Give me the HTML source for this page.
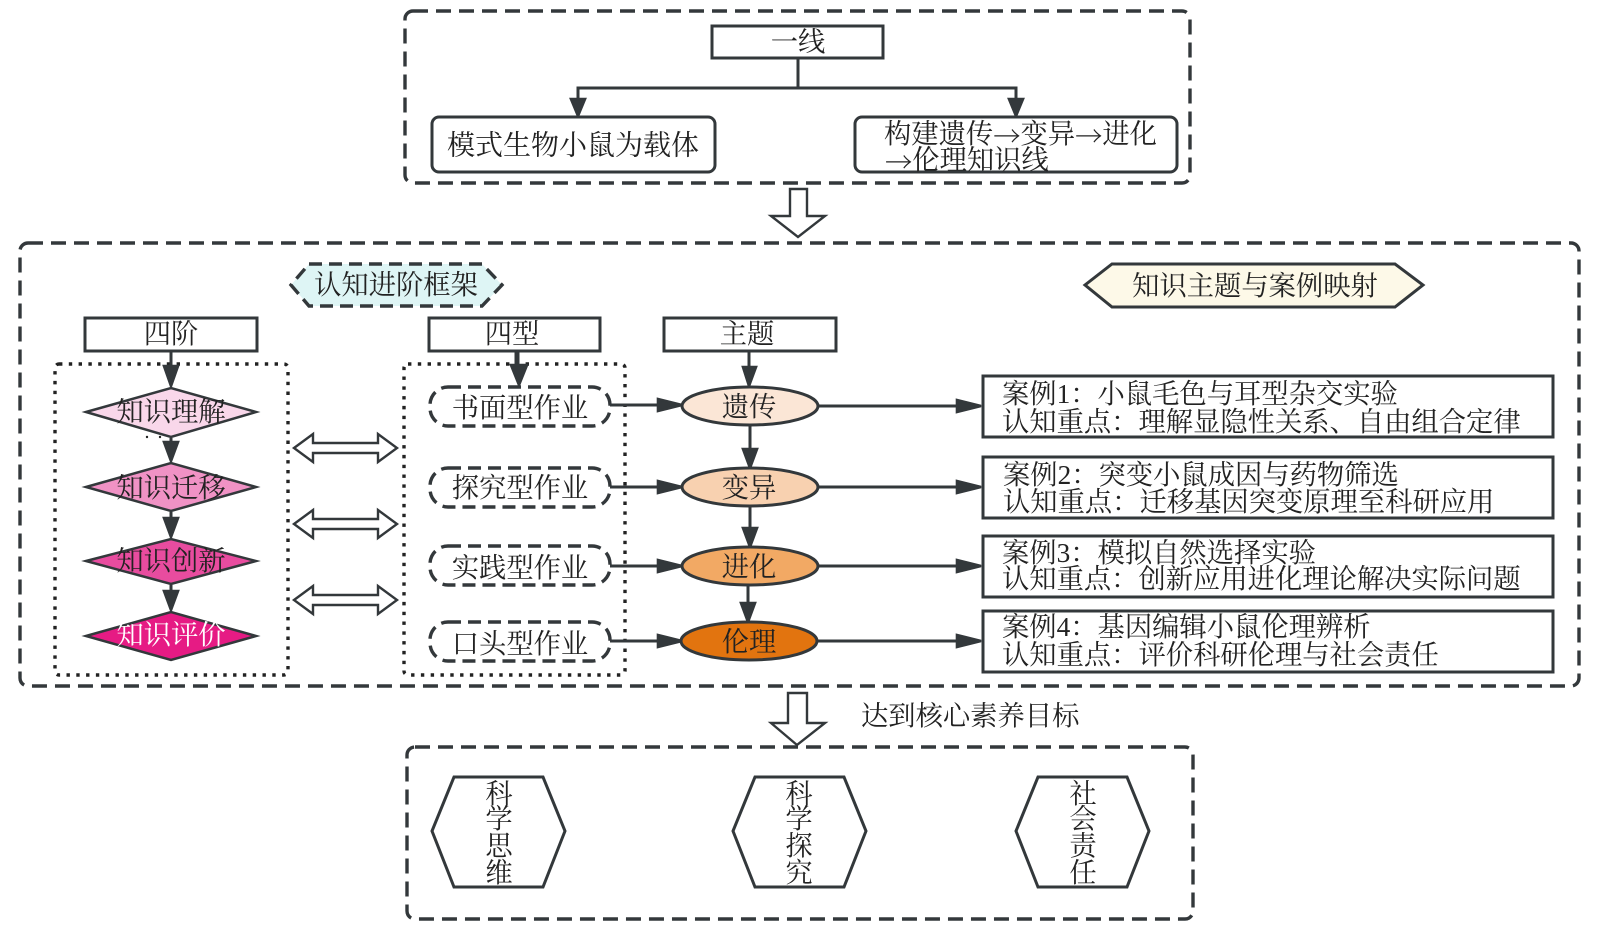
<!DOCTYPE html>
<html lang="zh"><head><meta charset="utf-8"><title>diagram</title>
<style>
html,body{margin:0;padding:0;background:#fff;width:1599px;height:929px;overflow:hidden}
svg{display:block}
text{font-family:"Liberation Serif","Noto Serif CJK SC","WenQuanYi Zen Hei",serif;font-size:27.3px;fill:#222;dominant-baseline:central;transform:translateY(1.8px)}
.a{font-family:"Noto Serif CJK SC",serif}
.m{text-anchor:middle}
.d{fill:none;stroke:#33383b;stroke-width:3.4;stroke-dasharray:15 8}
.b{fill:#fff;stroke:#33383b;stroke-width:3}
.s{stroke:#33383b;stroke-width:2.6;fill:#33383b}
.l{stroke:#33383b;stroke-width:3;fill:none}
.h{fill:#fff;stroke:#33383b;stroke-width:2.4}
.o{fill:none;stroke:#222;stroke-width:3.4;stroke-dasharray:3.4 6.4}
.p{fill:#fff;stroke:#33383b;stroke-width:3.4;stroke-dasharray:13 7}
</style></head><body>
<svg width="1599" height="929" viewBox="0 0 1599 929" xmlns="http://www.w3.org/2000/svg">
<!-- outer dashed boxes -->
<rect class="d" x="405" y="11" width="785" height="172" rx="8"/>
<rect class="d" x="20" y="243" width="1559" height="443" rx="8"/>
<rect class="d" x="407" y="747" width="786" height="172" rx="8"/>
<!-- top section -->
<rect class="b" x="712" y="26" width="171" height="32"/>
<text class="m" x="798" y="40">一线</text>
<path class="l" d="M798 58V88M578 100V88H1016V100"/>
<polygon class="s" points="571,99 585,99 578,116"/>
<polygon class="s" points="1009,99 1023,99 1016,116"/>
<rect class="b" x="432" y="117" width="283" height="55" rx="7"/>
<text x="447" y="144" style="font-size:28px">模式生物小鼠为载体</text>
<rect class="b" x="855" y="117" width="322" height="55" rx="7"/>
<text x="884" y="132">构建遗传<tspan class="a">→</tspan>变异<tspan class="a">→</tspan>进化</text>
<text x="885" y="158"><tspan class="a">→</tspan>伦理知识线</text>
<!-- hollow arrows -->
<polygon class="h" points="790,189 807,189 807,216 825,216 798,237 771,216 790,216"/>
<polygon class="h" points="788,693 807,693 807,723 825,723 797,745 771,723 788,723"/>
<text x="861" y="714">达到核心素养目标</text>
<!-- titles -->
<polygon points="309,264 482,264 502,285 482,306 309,306 291,285" fill="#def5f5" stroke="#33383b" stroke-width="3.4" stroke-dasharray="13 7"/>
<text class="m" x="396" y="283">认知进阶框架</text>
<polygon points="1112,264 1395,264 1423,285 1395,307 1112,307 1085,285" fill="#fdf9e8" stroke="#33383b" stroke-width="3"/>
<text class="m" x="1255" y="284">知识主题与案例映射</text>
<!-- dotted groups -->
<rect class="o" x="55" y="364" width="233" height="311" rx="4"/>
<rect class="o" x="404" y="364" width="221" height="311" rx="4"/>
<!-- headers -->
<rect class="b" x="85" y="318" width="172" height="33"/>
<text class="m" x="171" y="332">四阶</text>
<rect class="b" x="429" y="318" width="171" height="33"/>
<text class="m" x="512" y="332">四型</text>
<rect class="b" x="664" y="318" width="172" height="33"/>
<text class="m" x="747" y="332">主题</text>
<!-- diamonds -->
<polygon points="86,412 171,388 256,412 171,437" fill="#f9d7ea" stroke="#33383b" stroke-width="2.5"/>
<polygon points="86,487 171,463 256,487 171,511" fill="#f092c5" stroke="#33383b" stroke-width="2.5"/>
<polygon points="86,561 171,539 256,561 171,584" fill="#e84c9f" stroke="#33383b" stroke-width="2.5"/>
<polygon points="86,636 171,612 256,636 171,660" fill="#e61b84" stroke="#33383b" stroke-width="2.5"/>
<text class="m" x="171" y="410">知识理解</text>
<text class="m" x="171" y="486">知识迁移</text>
<text class="m" x="171" y="559">知识创新</text>
<text class="m" x="171" y="633" style="fill:#fff">知识评价</text>
<circle cx="147" cy="437" r="1.2" fill="#222"/><circle cx="160" cy="437" r="1.2" fill="#222"/>
<!-- diamond arrows -->
<path class="l" d="M171 351V370M171 438V445M171 512V520M171 585V592"/>
<polygon class="s" points="164,366 178,366 171,386"/>
<polygon class="s" points="164,442 178,442 171,461"/>
<polygon class="s" points="164,518 178,518 171,537"/>
<polygon class="s" points="164,591 178,591 171,610"/>
<!-- type arrow -->
<path d="M517 351V370" stroke="#33383b" stroke-width="5" fill="none"/>
<polygon class="s" points="511,365 527,365 519,385"/>
<!-- double arrows -->
<polygon class="h" points="294,448 313,434 313,443 378,443 378,434 397,448 378,462 378,453 313,453 313,462"/>
<polygon class="h" points="294,524 313,510 313,519 378,519 378,510 397,524 378,538 378,529 313,529 313,538"/>
<polygon class="h" points="294,600 313,586 313,595 378,595 378,586 397,600 378,614 378,605 313,605 313,614"/>
<!-- pills -->
<rect class="p" x="430" y="387" width="180" height="39" rx="18"/>
<rect class="p" x="430" y="468" width="180" height="39" rx="18"/>
<rect class="p" x="430" y="546" width="180" height="39" rx="18"/>
<rect class="p" x="430" y="622" width="180" height="39" rx="18"/>
<text class="m" x="520" y="406">书面型作业</text>
<text class="m" x="520" y="486">探究型作业</text>
<text class="m" x="520" y="566">实践型作业</text>
<text class="m" x="520" y="642">口头型作业</text>
<!-- pill to ellipse arrows -->
<path class="l" d="M610 405H660M610 487H660M610 566H660M610 641H660"/>
<polygon class="s" points="658,399 658,411 682,405"/>
<polygon class="s" points="658,481 658,493 682,487"/>
<polygon class="s" points="658,560 658,572 682,566"/>
<polygon class="s" points="658,635 658,647 682,641"/>
<!-- vertical theme arrows -->
<path class="l" d="M749 351V370M750 425V450M750 506V530M748 585V605"/>
<polygon class="s" points="743,367 756,367 749,386"/>
<polygon class="s" points="743,449 757,449 750,468"/>
<polygon class="s" points="743,528 757,528 750,547"/>
<polygon class="s" points="741,603 755,603 748,622"/>
<!-- ellipses -->
<ellipse cx="750" cy="406" rx="68" ry="19" fill="#fbe6d6" stroke="#33383b" stroke-width="3"/>
<ellipse cx="750" cy="487" rx="68" ry="19" fill="#f8d1b0" stroke="#33383b" stroke-width="3"/>
<ellipse cx="750" cy="566" rx="68" ry="19" fill="#f2a964" stroke="#33383b" stroke-width="3"/>
<ellipse cx="749" cy="641" rx="68" ry="19" fill="#e2740f" stroke="#33383b" stroke-width="3"/>
<text class="m" x="749" y="405">遗传</text>
<text class="m" x="749" y="486">变异</text>
<text class="m" x="749" y="565">进化</text>
<text class="m" x="749" y="640">伦理</text>
<!-- ellipse to case arrows -->
<path class="l" d="M818 406H960M818 487H960M818 566H960M818 641H960"/>
<polygon class="s" points="957,400 957,412 981,406"/>
<polygon class="s" points="957,481 957,493 981,487"/>
<polygon class="s" points="957,560 957,572 981,566"/>
<polygon class="s" points="957,635 957,647 981,641"/>
<!-- case boxes -->
<rect class="b" x="983" y="376" width="570" height="61"/>
<rect class="b" x="983" y="457" width="570" height="61"/>
<rect class="b" x="983" y="536" width="570" height="61"/>
<rect class="b" x="983" y="611" width="570" height="61"/>
<text x="1002" y="392">案例1：小鼠毛色与耳型杂交实验</text>
<text x="1002" y="420">认知重点：理解显隐性关系、自由组合定律</text>
<text x="1003" y="473">案例2：突变小鼠成因与药物筛选</text>
<text x="1003" y="500">认知重点：迁移基因突变原理至科研应用</text>
<text x="1002" y="551">案例3：模拟自然选择实验</text>
<text x="1002" y="577">认知重点：创新应用进化理论解决实际问题</text>
<text x="1002" y="625">案例4：基因编辑小鼠伦理辨析</text>
<text x="1002" y="653">认知重点：评价科研伦理与社会责任</text>
<!-- hexagons -->
<polygon class="b" points="454,777 543,777 565,831 543,887 454,887 432,831"/>
<polygon class="b" points="755,777 844,777 866,831 844,887 755,887 733,831"/>
<polygon class="b" points="1038,777 1127,777 1149,831 1127,887 1038,887 1016,831"/>
<text class="m" x="499" y="792">科</text><text class="m" x="499" y="817">学</text><text class="m" x="499" y="844">思</text><text class="m" x="499" y="871">维</text>
<text class="m" x="799" y="792">科</text><text class="m" x="799" y="817">学</text><text class="m" x="799" y="844">探</text><text class="m" x="799" y="871">究</text>
<text class="m" x="1083" y="792">社</text><text class="m" x="1083" y="817">会</text><text class="m" x="1083" y="844">责</text><text class="m" x="1083" y="871">任</text>
</svg>
</body></html>
